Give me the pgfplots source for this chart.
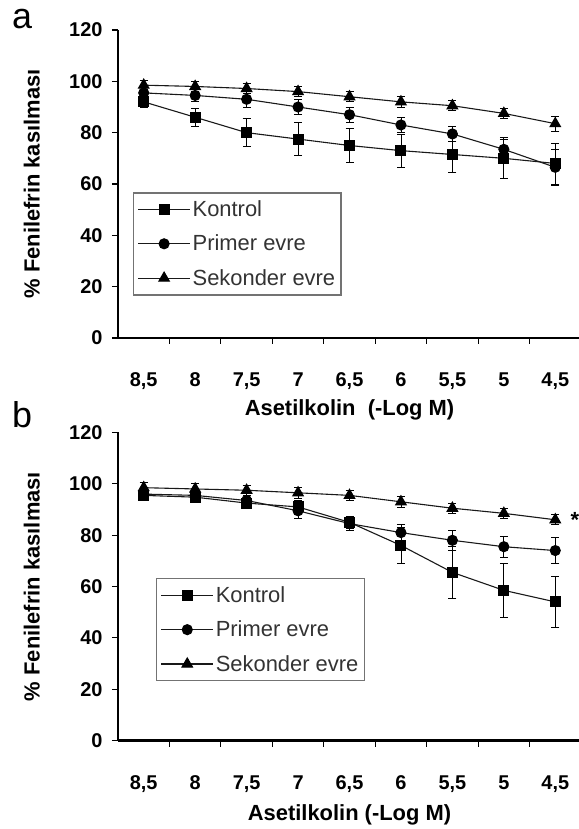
\documentclass[border=0pt]{standalone}
\usepackage{fontspec}
\setmainfont{Liberation Sans}
\usepackage{pgfplots}
\usepackage{pgfplotstable}
\pgfplotsset{compat=1.18}

% x: 0..8 = 8,5 ... 4,5 (-log M); k = Kontrol, p = Primer evre, s = Sekonder evre
\pgfplotstableread{
x  k     ke   p     pe   s     se
0  92    2    95.5  2    98.5  2
1  86    3.5  94.5  2.5  98    2
2  80    5.5  93    3    97.2  2
3  77.5  6.5  90    3    96    2
4  75    6.5  87    3    94    2
5  73    6.5  83    3    92    2
6  71.5  7    79.5  3    90.5  2
7  70    8    73.5  4    87.5  2
8  68    8    66.5  7    83.5  3
}\dataA

\pgfplotstableread{
x  k     ke   p     pe   s     se
0  95.5  1.5  96    1.5  98.5  2
1  94.8  2    95.5  2    98    2
2  92.5  2    93.5  3    97.5  2
3  91    2.5  89.5  3    96.5  2
4  85    2.5  84.5  2.5  95.5  2
5  76    7    81    3    93    2
6  65.5  10   78    4    90.5  2
7  58.5  10.5 75.5  4    88.5  2
8  54    10   74    5    86    2
}\dataB

\pgfplotsset{
  panel/.style={
    scale only axis, width=463bp, height=308bp,
    xmin=-0.5, xmax=8.5, ymin=0, ymax=120,
    clip=false,
    axis x line=bottom, axis y line=left,
    axis line style={-, line width=2bp},
    xtick={0,...,8},
    xticklabels={{8,5},{8},{7,5},{7},{6,5},{6},{5,5},{5},{4,5}},
    major x tick style={draw=none},
    minor xtick={0.5,1.5,...,8.5},
    ytick={0,20,...,120},
    tick align=outside, major tick length=6bp, minor tick length=6bp,
    tick style={black, line width=1.2bp},
    ticklabel style={font=\fontsize{20}{20}\selectfont\bfseries},
    /pgf/number format/assume math mode=true,
    xticklabel style={anchor=base, yshift=-43bp},
    yticklabel style={xshift=-6bp},
    ylabel={\% Fenilefrin kasılması},
    ylabel style={at={(axis description cs:-0.186,0.5)}, anchor=center,
      font=\fontsize{22}{22}\selectfont\bfseries},
    xlabel style={at={(axis description cs:0.5,0)}, anchor=center,
      font=\fontsize{22}{22}\selectfont\bfseries},
    legend cell align=left,
    legend image code/.code={
      \draw[mark repeat=2,mark phase=2,##1] plot coordinates {(0bp,0bp) (26bp,0bp) (52bp,0bp)};},
    legend style={anchor=north west, draw=black!55, line width=1.5bp,
      font=\fontsize{22}{22}\selectfont, text=black!80,
      inner xsep=4bp, inner ysep=6bp, row sep=13bp},
  },
  ser/.style={black!90, line width=1.1bp, mark options={solid, fill=black, draw=black},
    error bars/y dir=both, error bars/y explicit,
    error bars/error bar style={line width=0.8bp, black},
    error bars/error mark options={rotate=90, mark size=4bp, line width=0.8bp, black}},
}

\begin{document}
\begin{tikzpicture}
\useasboundingbox (0,0) rectangle (579bp,829bp);

\node[anchor=base west, inner sep=0pt, font=\fontsize{36}{36}\selectfont] at (12bp,800bp) {a};
\node[anchor=base west, inner sep=0pt, font=\fontsize{36}{36}\selectfont] at (12bp,401bp) {b};

\begin{axis}[panel, at={(118bp,491bp)}, anchor=south west,
  xlabel={Asetilkolin\ \ (-Log M)},
  xlabel style={yshift=-72bp},
  legend style={at={(axis description cs:0.032,0.474)}}]
\addplot+[ser, mark=square*, mark size=5bp] table[x=x, y=k, y error=ke] {\dataA};
\addplot+[ser, mark=*, mark size=5bp] table[x=x, y=p, y error=pe] {\dataA};
\addplot+[ser, mark=triangle*, mark size=6bp] table[x=x, y=s, y error=se] {\dataA};
\legend{Kontrol, Primer evre, Sekonder evre}
\end{axis}

\begin{axis}[panel, at={(118bp,88.5bp)}, anchor=south west,
  xlabel={Asetilkolin (-Log M)},
  xlabel style={yshift=-74bp},
  legend style={at={(axis description cs:0.082,0.528)}}]
\addplot+[ser, mark=square*, mark size=5bp] table[x=x, y=k, y error=ke] {\dataB};
\addplot+[ser, mark=*, mark size=5bp] table[x=x, y=p, y error=pe] {\dataB};
\addplot+[ser, mark=triangle*, mark size=6bp] table[x=x, y=s, y error=se] {\dataB};
\legend{Kontrol, Primer evre, Sekonder evre}
\node[font=\fontsize{22}{22}\selectfont\bfseries] at (axis cs:8.38,86) {*};
\end{axis}
\end{tikzpicture}
\end{document}
